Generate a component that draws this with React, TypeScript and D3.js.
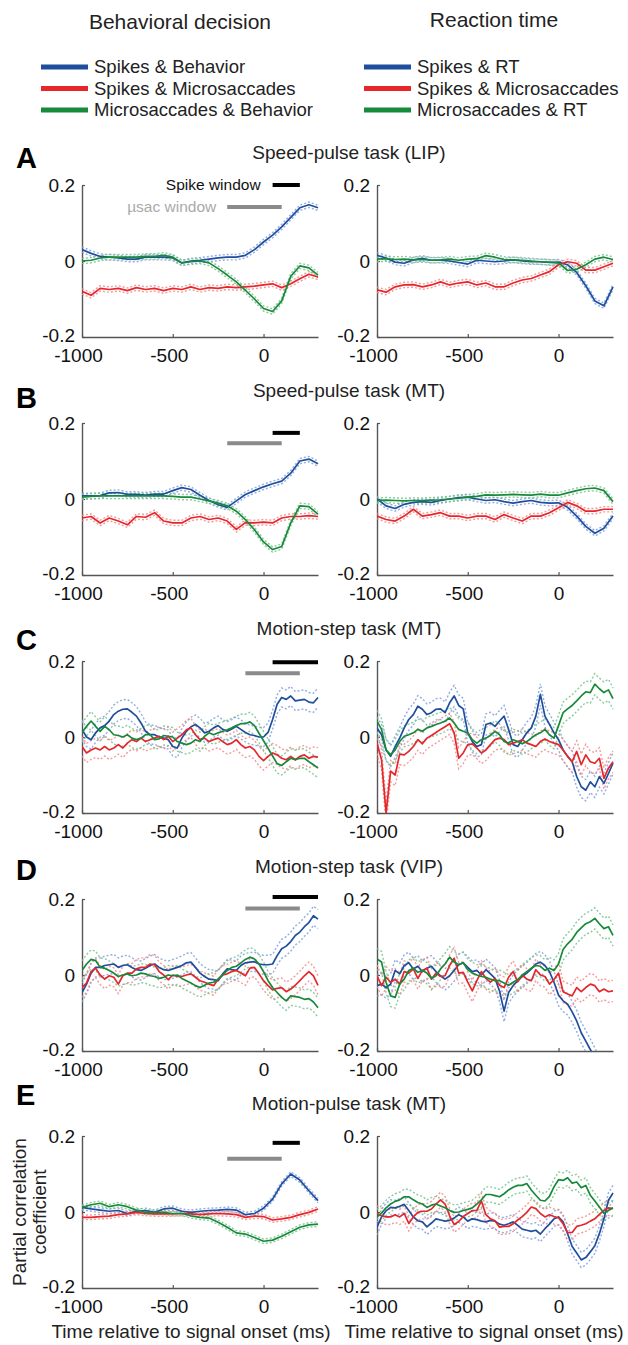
import React, { useEffect, useRef } from 'react';
import * as d3 from 'd3';

// time grids (ms relative to signal onset)
const T50 = d3.range(-1000, 301, 50);
const T25 = d3.range(-1000, 301, 25);

// A - Speed-pulse task (LIP)
const aBehBlue = [0.03, 0.02, 0.012, 0.01, 0.008, 0.005, 0.005, 0.01, 0.01, 0.01, 0.008, -0.005, 0.0, 0.002, 0.005, 0.008, 0.01, 0.01, 0.015, 0.03, 0.05, 0.068, 0.09, 0.115, 0.14, 0.148, 0.14];
const aBehRed = [-0.08, -0.09, -0.072, -0.075, -0.072, -0.078, -0.07, -0.075, -0.072, -0.078, -0.072, -0.075, -0.068, -0.075, -0.07, -0.072, -0.068, -0.07, -0.068, -0.066, -0.063, -0.06, -0.07, -0.06, -0.047, -0.035, -0.042];
const aBehGreen = [0.0, 0.002, 0.008, 0.01, 0.01, 0.01, 0.01, 0.012, 0.012, 0.015, 0.01, -0.005, -0.002, 0.0, -0.005, -0.02, -0.037, -0.055, -0.077, -0.1, -0.125, -0.133, -0.105, -0.04, -0.013, -0.018, -0.037];
const aRtBlue = [0.015, 0.008, -0.003, -0.006, 0.003, 0.007, 0.002, 0.002, 0.0, -0.004, -0.008, 0.002, 0.0, -0.002, 0.0, 0.003, 0.0, -0.002, -0.002, -0.004, -0.003, -0.01, -0.03, -0.065, -0.105, -0.118, -0.068];
const aRtRed = [-0.076, -0.082, -0.068, -0.063, -0.062, -0.068, -0.063, -0.055, -0.063, -0.058, -0.055, -0.063, -0.058, -0.068, -0.068, -0.058, -0.05, -0.046, -0.037, -0.028, -0.01, -0.002, -0.006, -0.024, -0.024, -0.015, -0.006];
const aRtGreen = [0.005, 0.006, 0.004, 0.005, 0.003, 0.004, 0.002, 0.003, 0.005, 0.002, 0.005, 0.006, 0.014, 0.01, 0.004, 0.003, 0.002, 0.0, -0.002, -0.003, -0.005, -0.025, -0.022, -0.01, 0.005, 0.01, 0.004];

// B - Speed-pulse task (MT)
const bBehBlue = [0.008, 0.008, 0.009, 0.016, 0.017, 0.012, 0.012, 0.01, 0.013, 0.013, 0.022, 0.03, 0.025, 0.01, -0.004, -0.015, -0.022, -0.005, 0.012, 0.022, 0.032, 0.04, 0.047, 0.068, 0.1, 0.105, 0.093];
const bBehRed = [-0.05, -0.046, -0.063, -0.05, -0.058, -0.068, -0.046, -0.048, -0.036, -0.058, -0.063, -0.063, -0.05, -0.046, -0.054, -0.05, -0.058, -0.08, -0.062, -0.063, -0.061, -0.063, -0.05, -0.046, -0.046, -0.044, -0.046];
const bBehGreen = [0.005, 0.007, 0.008, 0.008, 0.008, 0.008, 0.008, 0.008, 0.008, 0.008, 0.007, 0.005, 0.005, 0.0, -0.005, -0.011, -0.018, -0.032, -0.054, -0.081, -0.113, -0.133, -0.125, -0.063, -0.018, -0.02, -0.04];
const bRtBlue = [0.0, -0.018, -0.025, -0.014, -0.009, -0.007, -0.009, -0.004, 0.0, 0.004, 0.005, 0.0, -0.004, -0.002, -0.007, -0.011, -0.007, -0.004, -0.009, -0.011, -0.01, -0.022, -0.045, -0.072, -0.09, -0.077, -0.045];
const bRtRed = [-0.045, -0.054, -0.058, -0.045, -0.027, -0.045, -0.041, -0.036, -0.045, -0.045, -0.05, -0.045, -0.045, -0.054, -0.041, -0.05, -0.058, -0.045, -0.045, -0.036, -0.023, -0.009, -0.018, -0.032, -0.032, -0.027, -0.027];
const bRtGreen = [-0.004, -0.003, -0.004, -0.005, -0.004, -0.004, -0.003, -0.002, 0.0, 0.002, 0.005, 0.007, 0.011, 0.01, 0.011, 0.012, 0.011, 0.01, 0.013, 0.01, 0.01, 0.016, 0.022, 0.027, 0.029, 0.022, -0.007];

// C - Motion-step task (MT)
const cBehBlue = [0.02, 0.0, -0.007, 0.011, 0.024, 0.03, 0.042, 0.059, 0.068, 0.073, 0.074, 0.065, 0.055, 0.037, 0.015, 0.006, 0.006, 0.0, -0.003, -0.007, -0.025, -0.029, -0.003, 0.015, 0.027, 0.033, 0.024, 0.011, 0.015, 0.024, 0.03, 0.02, 0.015, 0.021, 0.028, 0.02, 0.012, 0.006, 0.004, 0.0, 0.0, 0.012, 0.046, 0.086, 0.104, 0.099, 0.108, 0.095, 0.097, 0.099, 0.092, 0.09, 0.104];
const cBehRed = [-0.025, -0.042, -0.034, -0.029, -0.034, -0.025, -0.034, -0.029, -0.02, -0.029, -0.016, -0.007, -0.012, -0.003, -0.012, -0.007, -0.003, 0.002, -0.007, 0.002, -0.012, -0.003, 0.006, 0.019, 0.024, 0.006, -0.007, -0.003, -0.012, -0.007, -0.003, -0.012, -0.02, -0.016, -0.007, -0.02, -0.029, -0.025, -0.034, -0.051, -0.062, -0.051, -0.042, -0.047, -0.056, -0.06, -0.051, -0.06, -0.051, -0.047, -0.056, -0.051, -0.053];
const cBehGreen = [0.011, 0.028, 0.042, 0.028, 0.015, 0.028, 0.019, 0.006, 0.004, 0.0, 0.006, -0.003, -0.007, -0.003, 0.006, 0.006, -0.007, -0.005, 0.004, 0.002, 0.0, -0.012, -0.016, -0.02, -0.016, -0.007, -0.012, 0.002, 0.011, 0.006, 0.011, 0.015, 0.019, 0.024, 0.03, 0.035, 0.035, 0.04, 0.03, 0.01, -0.01, -0.03, -0.05, -0.07, -0.075, -0.065, -0.056, -0.06, -0.056, -0.056, -0.065, -0.073, -0.082];
const cRtBlue = [0.024, 0.006, -0.034, -0.051, -0.025, -0.003, 0.024, 0.046, 0.059, 0.081, 0.073, 0.059, 0.064, 0.073, 0.074, 0.064, 0.09, 0.108, 0.083, 0.074, 0.011, -0.012, -0.025, -0.02, 0.033, 0.037, 0.028, 0.042, 0.055, 0.02, -0.02, -0.025, -0.007, 0.011, 0.024, 0.055, 0.112, 0.055, 0.033, 0.011, -0.007, -0.034, -0.051, -0.065, -0.104, -0.131, -0.14, -0.118, -0.131, -0.104, -0.122, -0.096, -0.069];
const cRtRed = [-0.016, -0.06, -0.2, -0.09, -0.1, -0.045, -0.047, -0.038, -0.025, -0.007, -0.018, -0.003, 0.004, 0.012, 0.02, 0.027, 0.035, 0.011, -0.056, -0.042, -0.02, -0.018, -0.029, -0.042, -0.034, -0.02, -0.007, -0.003, -0.007, -0.02, -0.016, -0.012, -0.007, -0.016, -0.02, -0.025, -0.012, -0.005, -0.012, -0.016, -0.02, -0.034, -0.051, -0.065, -0.038, -0.073, -0.047, -0.065, -0.069, -0.056, -0.109, -0.082, -0.065];
const cRtGreen = [0.042, 0.02, -0.034, -0.047, -0.034, -0.012, 0.002, 0.006, 0.011, 0.02, 0.015, 0.024, 0.028, 0.033, 0.037, 0.042, 0.05, 0.037, 0.02, 0.015, 0.011, -0.007, -0.016, -0.007, -0.003, 0.004, 0.015, 0.006, -0.012, -0.016, -0.007, -0.012, -0.018, -0.012, -0.003, 0.006, 0.011, 0.02, 0.006, -0.003, 0.03, 0.064, 0.074, 0.083, 0.095, 0.108, 0.119, 0.117, 0.139, 0.127, 0.117, 0.124, 0.101];

// D - Motion-step task (VIP)
const dBehBlue = [-0.046, -0.024, 0.005, 0.02, 0.02, 0.025, 0.027, 0.029, 0.02, 0.025, 0.027, 0.02, 0.014, 0.012, 0.018, 0.025, 0.029, 0.02, 0.014, 0.012, 0.016, 0.02, 0.025, 0.032, 0.034, 0.02, 0.005, -0.004, -0.011, -0.012, -0.015, 0.003, 0.016, 0.014, 0.012, 0.025, 0.032, 0.034, 0.035, 0.029, 0.027, 0.027, 0.029, 0.051, 0.069, 0.076, 0.088, 0.104, 0.113, 0.127, 0.138, 0.156, 0.147];
const dBehRed = [-0.033, -0.021, 0.009, 0.018, 0.0, -0.011, -0.002, -0.006, -0.024, -0.002, 0.005, 0.005, 0.016, 0.02, 0.02, 0.029, 0.027, 0.009, 0.0, -0.012, 0.0, -0.004, -0.004, 0.0, 0.003, -0.006, -0.015, -0.019, -0.024, -0.028, -0.011, 0.0, 0.003, 0.009, 0.012, 0.005, -0.002, 0.018, 0.02, 0.003, -0.015, -0.028, -0.039, -0.035, -0.033, -0.044, -0.037, -0.027, -0.015, -0.002, 0.009, -0.002, -0.027];
const dBehGreen = [0.012, 0.029, 0.041, 0.038, 0.02, 0.018, 0.012, 0.005, -0.004, 0.0, 0.003, -0.002, 0.0, 0.005, 0.003, -0.002, -0.004, -0.009, -0.006, 0.0, -0.002, 0.0, -0.009, -0.015, -0.021, -0.028, -0.033, -0.027, -0.021, -0.019, -0.011, 0.0, 0.012, 0.02, 0.023, 0.032, 0.041, 0.047, 0.042, 0.029, 0.009, -0.015, -0.033, -0.046, -0.059, -0.068, -0.055, -0.057, -0.059, -0.064, -0.062, -0.071, -0.086];
const dRtBlue = [-0.028, -0.024, -0.033, -0.024, 0.012, 0.003, 0.025, 0.032, 0.016, 0.023, 0.009, 0.018, 0.023, 0.009, -0.002, -0.011, -0.002, 0.012, 0.027, 0.032, 0.02, 0.009, 0.012, 0.0, 0.014, 0.003, -0.009, -0.042, -0.095, -0.046, -0.028, -0.015, -0.004, 0.005, 0.016, 0.029, 0.034, 0.025, 0.009, -0.019, -0.053, -0.068, -0.077, -0.097, -0.121, -0.152, -0.174, -0.196, -0.22, -0.245, -0.27, -0.29, -0.31];
const dRtRed = [-0.002, -0.028, -0.006, -0.019, -0.011, -0.024, 0.009, 0.005, 0.016, -0.009, 0.012, 0.018, -0.011, 0.005, -0.004, -0.002, 0.025, 0.044, 0.005, 0.007, -0.019, -0.042, -0.015, 0.009, -0.009, -0.019, -0.009, -0.027, -0.033, -0.006, 0.009, -0.018, 0.0, -0.011, -0.015, 0.014, 0.0, -0.004, -0.024, -0.012, 0.005, -0.044, -0.05, -0.055, -0.033, -0.044, -0.033, -0.024, -0.028, -0.044, -0.037, -0.044, -0.042];
const dRtGreen = [0.042, 0.034, -0.019, -0.055, -0.059, -0.024, -0.011, 0.012, 0.018, 0.007, 0.012, 0.005, -0.009, -0.002, 0.016, 0.029, 0.047, 0.034, 0.027, 0.032, 0.014, 0.005, 0.0, -0.004, -0.006, -0.011, -0.015, -0.015, -0.021, -0.027, -0.019, -0.012, 0.0, 0.009, 0.018, 0.025, 0.023, 0.012, 0.018, 0.012, 0.029, 0.067, 0.082, 0.094, 0.112, 0.124, 0.135, 0.14, 0.149, 0.135, 0.122, 0.127, 0.104];

// E - Motion-pulse task (MT)
const eBehBlue = [0.012, 0.008, 0.005, 0.002, 0.004, -0.004, 0.002, 0.004, -0.001, 0.008, 0.01, 0.002, -0.001, 0.002, 0.004, 0.005, 0.007, 0.005, -0.007, -0.004, 0.01, 0.034, 0.074, 0.1, 0.084, 0.056, 0.03];
const eBehRed = [-0.014, -0.014, -0.012, -0.011, -0.007, -0.005, -0.001, -0.004, -0.005, -0.005, -0.005, -0.004, -0.005, -0.007, -0.005, -0.004, -0.005, -0.007, -0.014, -0.011, -0.012, -0.021, -0.018, -0.014, -0.007, -0.001, 0.008];
const eBehGreen = [0.012, 0.019, 0.023, 0.014, 0.019, 0.014, 0.005, -0.001, -0.001, -0.001, -0.004, -0.004, -0.01, -0.014, -0.016, -0.027, -0.04, -0.055, -0.058, -0.067, -0.077, -0.074, -0.064, -0.052, -0.04, -0.034, -0.032];
const eRtBlue = [-0.04, -0.013, 0.003, 0.012, 0.011, 0.015, 0.02, 0.004, -0.013, -0.023, -0.026, -0.039, -0.029, -0.018, -0.021, -0.024, -0.022, -0.016, -0.007, -0.013, -0.024, -0.018, -0.02, -0.024, -0.026, -0.022, -0.024, -0.032, -0.035, -0.031, -0.026, -0.035, -0.045, -0.048, -0.051, -0.048, -0.058, -0.044, -0.032, -0.018, -0.013, -0.026, -0.057, -0.091, -0.108, -0.126, -0.12, -0.105, -0.089, -0.057, -0.018, 0.031, 0.05];
const eRtRed = [-0.004, -0.01, -0.013, -0.013, -0.007, -0.013, -0.004, -0.03, -0.013, -0.001, 0.002, 0.002, 0.008, 0.021, 0.032, 0.021, -0.01, -0.033, -0.025, -0.012, -0.004, 0.004, 0.004, 0.029, -0.007, -0.018, -0.023, -0.04, -0.038, -0.038, -0.031, -0.021, -0.012, -0.001, 0.013, 0.009, -0.004, -0.013, -0.007, -0.012, -0.015, -0.031, -0.054, -0.054, -0.038, -0.035, -0.031, -0.024, -0.018, -0.006, 0.004, 0.011, 0.009];
const eRtGreen = [-0.013, -0.003, 0.011, 0.021, 0.028, 0.032, 0.04, 0.04, 0.032, 0.025, 0.021, 0.012, 0.018, 0.021, 0.016, 0.011, 0.004, -0.001, 0.0, 0.004, 0.007, 0.011, 0.021, 0.032, 0.046, 0.046, 0.043, 0.04, 0.048, 0.058, 0.065, 0.07, 0.07, 0.075, 0.058, 0.044, 0.031, 0.029, 0.041, 0.066, 0.085, 0.083, 0.09, 0.076, 0.079, 0.064, 0.07, 0.044, 0.029, 0.013, -0.003, 0.004, 0.011];

// standard errors (half-width of dashed band), per panel: [behavior, RT]
const SEM = [[0.007, 0.007], [0.007, 0.007], [0.025, 0.028], [0.025, 0.028], [0.006, 0.02]];

// analysis windows (ms) and bar level (correlation units)
const SPIKE_WIN = [[50, 200], [50, 200], [50, 300], [50, 300], [50, 200]];
const SPIKE_LEVEL = [0.2, 0.174, 0.197, 0.205, 0.182];
const USAC_WIN = [[-200, 100], [-200, 100], [-100, 200], [-100, 200], [-200, 100]];
const USAC_LEVEL = [0.142, 0.147, 0.168, 0.175, 0.14];

const LETTERS = ['A', 'B', 'C', 'D', 'E'];
const TITLES = ['Speed-pulse task (LIP)', 'Speed-pulse task (MT)', 'Motion-step task (MT)', 'Motion-step task (VIP)', 'Motion-pulse task (MT)'];
const X_TICKS = [-1000, -500, 0];
const Y_TICKS = [-0.2, 0, 0.2];

const LEGEND_BEH = ['Spikes & Behavior', 'Spikes & Microsaccades', 'Microsaccades & Behavior'];
const LEGEND_RT = ['Spikes & RT', 'Spikes & Microsaccades', 'Microsaccades & RT'];

const PANELS = [
  { times: T50, beh: [aBehBlue, aBehRed, aBehGreen], rt: [aRtBlue, aRtRed, aRtGreen] },
  { times: T50, beh: [bBehBlue, bBehRed, bBehGreen], rt: [bRtBlue, bRtRed, bRtGreen] },
  { times: T25, beh: [cBehBlue, cBehRed, cBehGreen], rt: [cRtBlue, cRtRed, cRtGreen] },
  { times: T25, beh: [dBehBlue, dBehRed, dBehGreen], rt: [dRtBlue, dRtRed, dRtGreen] },
  { times: T50, beh: [eBehBlue, eBehRed, eBehGreen], rt: [eRtBlue, eRtRed, eRtGreen], rtTimes: T25 },
];

const COLORS = ['#1f4e9e', '#e6262b', '#178a3a'];
const BAND_COLORS = ['#7f9fdb', '#f28a8a', '#78c28b'];

const W = 628;
const H = 1345;
const FONT = '"Liberation Sans", Arial, Helvetica, sans-serif';
const PANEL_TOPS = [185, 423, 661, 899, 1136];
const PANEL_H = 152;
const LETTER_DY = [-17, -15, -11, -19, -31];
const COLS = [[82, 318], [377, 613]];

function App() {
  const svgRef = useRef(null);

  useEffect(() => {
    const svg = d3.select(svgRef.current);
    svg.selectAll('*').remove();
    svg.append('rect').attr('width', W).attr('height', H).attr('fill', '#fff');

    // column headers
    svg.append('text').attr('x', 180).attr('y', 29).attr('text-anchor', 'middle')
      .style('font-size', '21px').style('font-family', FONT).attr('fill', '#222')
      .text('Behavioral decision');
    svg.append('text').attr('x', 494).attr('y', 27).attr('text-anchor', 'middle')
      .style('font-size', '21px').style('font-family', FONT).attr('fill', '#222')
      .text('Reaction time');

    // legends
    [[LEGEND_BEH, 41], [LEGEND_RT, 364]].forEach(([labels, lx]) => {
      labels.forEach((lab, i) => {
        const ly = 67 + i * 21.5;
        svg.append('line').attr('x1', lx).attr('x2', lx + 47).attr('y1', ly).attr('y2', ly)
          .attr('stroke', COLORS[i]).attr('stroke-width', 5);
        svg.append('text').attr('x', lx + 53).attr('y', ly).attr('dy', '0.35em')
          .style('font-size', '18.5px').style('font-family', FONT).attr('fill', '#222')
          .text(lab);
      });
    });

    PANELS.forEach((p, pi) => {
      const top = PANEL_TOPS[pi];

      svg.append('text').attr('x', 16).attr('y', top + LETTER_DY[pi])
        .style('font-size', '29px').style('font-weight', 'bold').style('font-family', FONT)
        .text(LETTERS[pi]);
      svg.append('text').attr('x', 349).attr('y', top - 26).attr('text-anchor', 'middle')
        .style('font-size', '19px').style('font-family', FONT).attr('fill', '#222')
        .text(TITLES[pi]);

      [p.beh, p.rt].forEach((series, ci) => {
        const [x0, x1] = COLS[ci];
        const times = ci === 1 && p.rtTimes ? p.rtTimes : p.times;
        const x = d3.scaleLinear().domain([-1000, 300]).range([x0, x1]);
        const y = d3.scaleLinear().domain([-0.2, 0.2]).range([top + PANEL_H, top]);
        const sem = SEM[pi][ci];

        const clipId = `clip-${pi}-${ci}`;
        svg.append('clipPath').attr('id', clipId).append('rect')
          .attr('x', x0).attr('y', top - 10).attr('width', x1 - x0 + 2).attr('height', PANEL_H + 10);

        // axes
        const yAxis = svg.append('g').attr('transform', `translate(${x0},0)`)
          .call(d3.axisLeft(y).tickValues(Y_TICKS).tickSize(-3).tickSizeOuter(0).tickPadding(7)
            .tickFormat(d => (d === 0 ? '0' : String(d))));
        const xAxis = svg.append('g').attr('transform', `translate(0,${y(-0.2)})`)
          .call(d3.axisBottom(x).tickValues(X_TICKS).tickSize(-3).tickSizeOuter(0).tickPadding(12)
            .tickFormat(d => String(d)));
        [yAxis, xAxis].forEach(g => {
          g.select('.domain').attr('stroke', '#555').attr('stroke-width', 1.4);
          g.selectAll('.tick line').attr('stroke', '#555').attr('stroke-width', 1.2);
          g.selectAll('.tick text').attr('fill', '#111')
            .style('font-size', '19px').style('font-family', FONT);
        });
        yAxis.selectAll('.tick text').attr('y', d => (d < 0 ? -2 : 0));
        xAxis.selectAll('.tick text').attr('dx', d => (d < 0 ? -4 : 0));

        const g = svg.append('g').attr('clip-path', `url(#${clipId})`);
        const line = d3.line().x((d, i) => x(times[i])).y(d => y(d));

        // dashed SEM bands
        series.forEach((vals, si) => {
          [1, -1].forEach(sign => {
            g.append('path').datum(vals.map(v => v + sign * sem))
              .attr('d', line).attr('fill', 'none')
              .attr('stroke', BAND_COLORS[si]).attr('stroke-width', 1.4)
              .attr('stroke-dasharray', '2,2').attr('opacity', 0.85);
          });
        });
        // means
        [0, 1, 2].forEach(si => {
          g.append('path').datum(series[si])
            .attr('d', line).attr('fill', 'none')
            .attr('stroke', COLORS[si]).attr('stroke-width', 1.7)
            .attr('stroke-linejoin', 'round');
        });

        // analysis window bars (behavior column only)
        if (ci === 0) {
          const [s0, s1] = SPIKE_WIN[pi];
          const [u0, u1] = USAC_WIN[pi];
          svg.append('line').attr('x1', x(s0)).attr('x2', x(s1))
            .attr('y1', y(SPIKE_LEVEL[pi])).attr('y2', y(SPIKE_LEVEL[pi]))
            .attr('stroke', '#000').attr('stroke-width', 4);
          svg.append('line').attr('x1', x(u0)).attr('x2', x(u1))
            .attr('y1', y(USAC_LEVEL[pi])).attr('y2', y(USAC_LEVEL[pi]))
            .attr('stroke', '#8a8a8a').attr('stroke-width', 4);
          if (pi === 0) {
            svg.append('text').attr('x', x(s0) - 12).attr('y', y(SPIKE_LEVEL[pi])).attr('dy', '0.35em')
              .attr('text-anchor', 'end').style('font-size', '15.5px').style('font-family', FONT)
              .attr('fill', '#111').text('Spike window');
            svg.append('text').attr('x', x(u0) - 11).attr('y', y(USAC_LEVEL[pi])).attr('dy', '0.35em')
              .attr('text-anchor', 'end').style('font-size', '15.5px').style('font-family', FONT)
              .attr('fill', '#aaa').text('\u00b5sac window');
          }
        }

        // axis titles on the last row
        if (pi === PANELS.length - 1) {
          svg.append('text').attr('x', ci === 0 ? 191 : 484).attr('y', 1338)
            .attr('text-anchor', 'middle').style('font-size', '19px').style('font-family', FONT)
            .attr('fill', '#222').text('Time relative to signal onset (ms)');
        }
      });
    });

    // y-axis title
    const yl = svg.append('text').attr('transform', 'translate(26,1212) rotate(-90)')
      .attr('text-anchor', 'middle').style('font-size', '19px').style('font-family', FONT).attr('fill', '#222');
    yl.append('tspan').attr('x', 0).attr('y', 0).text('Partial correlation');
    yl.append('tspan').attr('x', 0).attr('y', 20).text('coefficient');
  }, []);

  return (
    <svg
      ref={svgRef}
      width={W}
      height={H}
      style={{ position: 'absolute', left: 0, top: 0, display: 'block' }}
    />
  );
}

export default App;
